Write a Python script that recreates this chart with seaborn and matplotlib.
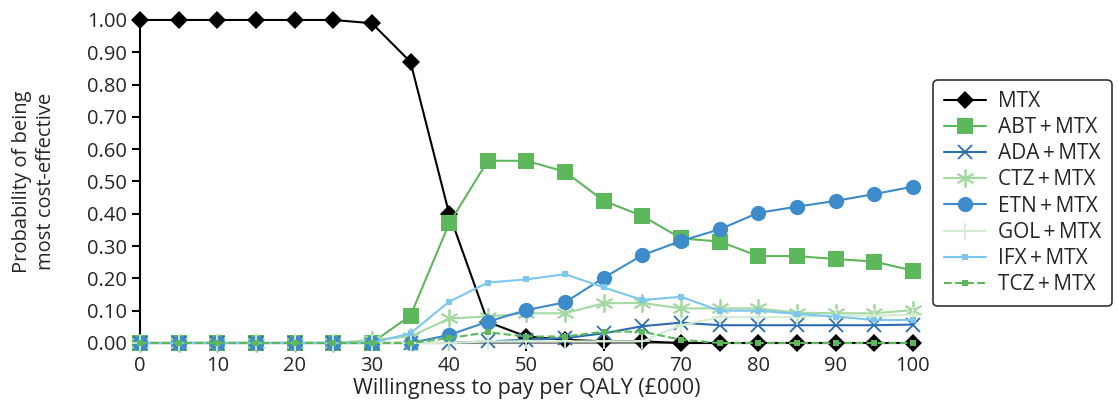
import numpy as np
import pandas as pd
import matplotlib
matplotlib.use("Agg")
import matplotlib.pyplot as plt
import seaborn as sns

wtp = [0, 5, 10, 15, 20, 25, 30, 35, 40, 45, 50, 55, 60, 65, 70, 75, 80, 85, 90, 95, 100]

mtx = [1.0, 1.0, 1.0, 1.0, 1.0, 1.0, 0.99, 0.87, 0.40, 0.065, 0.02, 0.01, 0.005, 0.005, 0.0, 0.0, 0.0, 0.0, 0.0, 0.0, 0.0]
abt = [0.0, 0.0, 0.0, 0.0, 0.0, 0.0, 0.0, 0.085, 0.37, 0.564, 0.564, 0.53, 0.44, 0.393, 0.324, 0.314, 0.269, 0.269, 0.26, 0.252, 0.224]
ada = [0.0, 0.0, 0.0, 0.0, 0.0, 0.0, 0.0, 0.0, 0.0, 0.005, 0.01, 0.015, 0.03, 0.052, 0.063, 0.055, 0.055, 0.055, 0.055, 0.055, 0.057]
ctz = [0.0, 0.0, 0.0, 0.0, 0.0, 0.0, 0.01, 0.02, 0.076, 0.082, 0.092, 0.092, 0.123, 0.124, 0.107, 0.107, 0.107, 0.094, 0.092, 0.092, 0.102]
etn = [0.0, 0.0, 0.0, 0.0, 0.0, 0.0, 0.0, 0.0, 0.025, 0.066, 0.102, 0.126, 0.202, 0.272, 0.316, 0.352, 0.403, 0.422, 0.44, 0.461, 0.484]
gol = [0.0, 0.0, 0.0, 0.0, 0.0, 0.0, 0.0, 0.0, 0.0, 0.005, 0.005, 0.005, 0.005, 0.005, 0.055, 0.08, 0.08, 0.08, 0.085, 0.085, 0.087]
ifx = [0.0, 0.0, 0.0, 0.0, 0.0, 0.0, 0.0, 0.03, 0.128, 0.187, 0.197, 0.213, 0.172, 0.133, 0.143, 0.1, 0.1, 0.09, 0.082, 0.071, 0.071]
tcz = [0.0, 0.0, 0.0, 0.0, 0.0, 0.0, 0.0, 0.0, 0.015, 0.033, 0.02, 0.02, 0.035, 0.035, 0.01, 0.0, 0.0, 0.0, 0.0, 0.0, 0.0]

labels = ["MTX", "ABT\u2009+\u2009MTX", "ADA\u2009+\u2009MTX", "CTZ\u2009+\u2009MTX", "ETN\u2009+\u2009MTX",
	"GOL\u2009+\u2009MTX", "IFX\u2009+\u2009MTX", "TCZ\u2009+\u2009MTX"]
series = [mtx, abt, ada, ctz, etn, gol, ifx, tcz]

# style per series (same order as labels): colour, marker, markersize, linestyle
styles = [
	("black", "D", 9, "-"),
	("#5cb85a", "s", 11, "-"),
	("#2b6cb5", "x", 10, "-"),
	("#a4d9a2", (6, 2, 0), 13, "-"),
	("#3d8bcb", "o", 11, "-"),
	("#d3ecd1", "+", 12, "-"),
	("#7cc6ef", "s", 4.5, "-"),
	("#5cb85a", "s", 4.5, "--"),
]

df = pd.DataFrame({"wtp": wtp * len(labels),
	"prob": np.concatenate(series),
	"strategy": np.repeat(labels, len(wtp))})

sns.set_style("white")
plt.rcParams['font.family'] = ['Open Sans', 'DejaVu Sans']
FS = 14.5

fig = plt.figure(figsize=(11.18, 4.16), dpi=100)
ax = fig.add_axes([0.1252, 0.1755, 0.6914, 0.7765])

for i, lab in enumerate(labels):
	c, m, ms, ls = styles[i]
	sub = df[df.strategy == lab]
	mew = 1.3 if m in ("x", "+") or isinstance(m, tuple) else 0
	sns.lineplot(data=sub, x="wtp", y="prob", ax=ax, color=c, marker=m, markersize=ms,
		linestyle=ls, linewidth=1.5, markeredgewidth=mew, markeredgecolor=c,
		label=lab, clip_on=False, zorder=3 + i)

ax.set_xlim(0, 100)
ax.set_ylim(0, 1.0)
ax.set_xticks(range(0, 101, 10))
ax.set_yticks(np.arange(0, 1.01, 0.1))
ax.set_yticklabels(["%.2f" % v for v in np.arange(0, 1.01, 0.1)])
for s in ["top", "right"]:
	ax.spines[s].set_visible(False)
ax.spines["left"].set_color("black")
ax.spines["left"].set_linewidth(1.5)
ax.spines["bottom"].set_color("#888888")
ax.spines["bottom"].set_linewidth(1.5)
ax.tick_params(axis="both", direction="out", length=6, width=1.5, color="black", labelsize=FS, left=True, bottom=True)
ax.set_xlabel("Willingness to pay per QALY (£000)", fontsize=15.5, labelpad=1)
ax.set_ylabel("Probability of being\nmost cost-effective", fontsize=FS, linespacing=1.25, labelpad=22)

leg = ax.legend(loc="upper left", bbox_to_anchor=(1.013, 0.845), fontsize=15, frameon=True,
	fancybox=True, edgecolor="black", handlelength=2.0, borderpad=0.5, labelspacing=0.25,
	handletextpad=0.6)
leg.get_frame().set_linewidth(1.2)

fig.savefig("out.png", dpi=100)
